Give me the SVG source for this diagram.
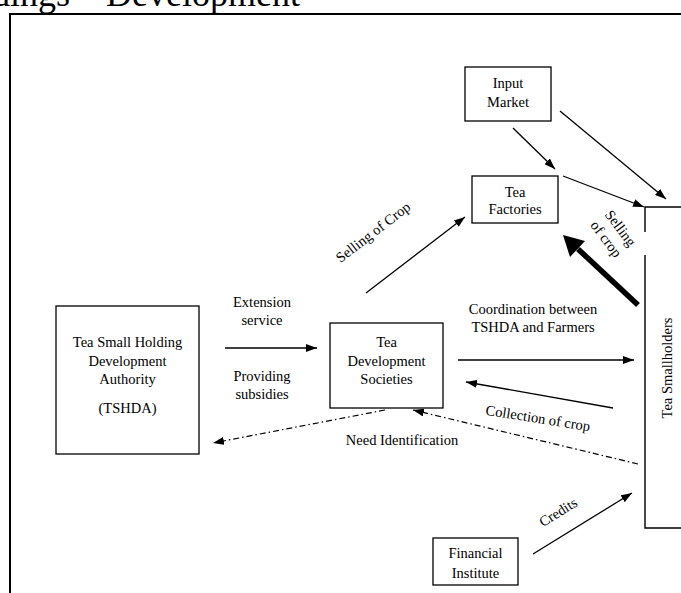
<svg xmlns="http://www.w3.org/2000/svg" width="681" height="593" viewBox="0 0 681 593">
<defs>
<style>
text{font-family:"Liberation Serif","Times New Roman",serif;font-size:14.5px;fill:#000}
.c{text-anchor:middle}
.box{fill:#fff;stroke:#000;stroke-width:1.3}
.ln{fill:none;stroke:#000;stroke-width:1.3}
.dd{fill:none;stroke:#000;stroke-width:1.2;stroke-dasharray:6 3 1.5 3}
</style>
<marker id="arr" markerUnits="userSpaceOnUse" markerWidth="11" markerHeight="8" refX="11" refY="4" orient="auto">
<path d="M0,0 L11,4 L0,8 z" fill="#000"/>
</marker>
</defs>
<rect width="681" height="593" fill="#fff"/>
<text x="300" y="6" style="font-size:36px;text-anchor:end">dings – Development</text>
<path d="M10,593 V14 H681" fill="none" stroke="#000" stroke-width="2"/>

<g id="connectors">
<line class="ln" x1="513" y1="128" x2="555" y2="169" marker-end="url(#arr)"/>
<line class="ln" x1="560" y1="111" x2="666" y2="199" marker-end="url(#arr)"/>
<line class="ln" x1="563" y1="176" x2="644" y2="207" marker-end="url(#arr)"/>
<line class="ln" x1="366" y1="293" x2="465" y2="217" marker-end="url(#arr)"/>
<line x1="638" y1="305" x2="578" y2="249" stroke="#000" stroke-width="5.5"/>
<polygon points="563,235 585,241 570,257" fill="#000"/>
<line class="ln" x1="225" y1="348" x2="317" y2="348" marker-end="url(#arr)"/>
<line class="ln" x1="458" y1="360" x2="634" y2="360" marker-end="url(#arr)"/>
<line class="ln" x1="613" y1="408" x2="466" y2="382" marker-end="url(#arr)"/>
<line class="dd" x1="638" y1="464" x2="413" y2="410" marker-end="url(#arr)"/>
<line class="dd" x1="385" y1="410" x2="213" y2="443" marker-end="url(#arr)"/>
<line class="ln" x1="533" y1="554" x2="632" y2="493" marker-end="url(#arr)"/>
<text transform="translate(373,232) rotate(-37.5)" class="c" y="5">Selling of Crop</text>
<text transform="translate(613.5,233.5) rotate(53)" class="c" y="-4">Selling</text>
<text transform="translate(613.5,233.5) rotate(53)" class="c" y="14">of crop</text>
<text class="c" x="262" y="307">Extension</text>
<text class="c" x="262" y="325">service</text>
<text class="c" x="262" y="381">Providing</text>
<text class="c" x="262" y="399">subsidies</text>
<text class="c" x="533" y="314">Coordination between</text>
<text class="c" x="533" y="332">TSHDA and Farmers</text>
<text transform="translate(538,418) rotate(9)" class="c" y="5">Collection of crop</text>
<text class="c" x="402" y="445">Need Identification</text>
<text transform="translate(558,512) rotate(-32)" class="c" y="5">Credits</text>
</g>

<g id="input-market">
<rect class="box" x="465" y="67" width="86" height="54"/>
<text class="c" x="508" y="88">Input</text>
<text class="c" x="508" y="107">Market</text>
</g>
<g id="tea-factories">
<rect class="box" x="472" y="176" width="86" height="47"/>
<text class="c" x="515" y="197">Tea</text>
<text class="c" x="515" y="214">Factories</text>
</g>
<g id="tea-smallholders">
<path d="M690,207 H645 V232 M645,255 V528 H690" fill="none" stroke="#000" stroke-width="1.4"/>
<text transform="translate(667,368) rotate(-90)" class="c" y="5">Tea Smallholders</text>
</g>
<g id="tshda">
<rect class="box" x="56" y="306" width="143" height="148"/>
<text class="c" x="127.5" y="347">Tea Small Holding</text>
<text class="c" x="127.5" y="366">Development</text>
<text class="c" x="127.5" y="384">Authority</text>
<text class="c" x="127.5" y="413">(TSHDA)</text>
</g>
<g id="tea-development-societies">
<rect class="box" x="330" y="323" width="113" height="85"/>
<text class="c" x="386.5" y="347">Tea</text>
<text class="c" x="386.5" y="366">Development</text>
<text class="c" x="386.5" y="384">Societies</text>
</g>
<g id="financial-institute">
<rect class="box" x="433" y="538" width="85" height="47"/>
<text class="c" x="475.5" y="558">Financial</text>
<text class="c" x="475.5" y="578">Institute</text>
</g>
</svg>
